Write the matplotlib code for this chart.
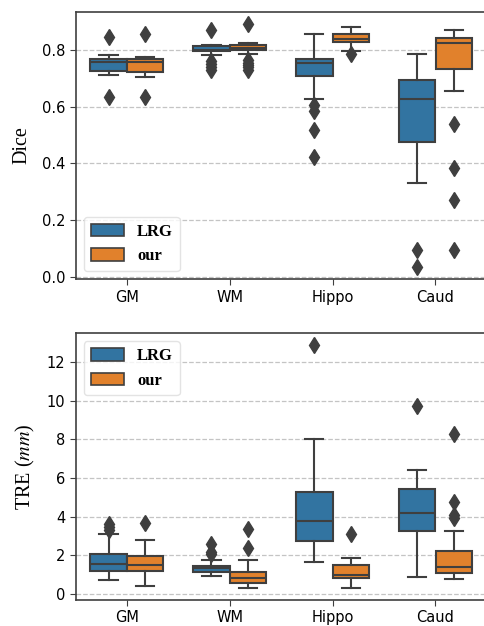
import matplotlib
matplotlib.use("Agg")
import matplotlib.pyplot as plt
from matplotlib.patches import Patch

categories = ["GM", "WM", "Hippo", "Caud"]
methods = ["LRG", "our"]

# Dice statistics
dice_lrg_med = [0.757, 0.800, 0.753, 0.628]
dice_lrg_q1 = [0.725, 0.794, 0.707, 0.474]
dice_lrg_q3 = [0.768, 0.813, 0.767, 0.692]
dice_lrg_lo = [0.709, 0.780, 0.625, 0.332]
dice_lrg_hi = [0.782, 0.817, 0.853, 0.784]
dice_lrg_fliers = [[0.844, 0.634], [0.870, 0.758, 0.748, 0.740, 0.728],
                   [0.605, 0.584, 0.517, 0.423], [0.098, 0.037]]

dice_our_med = [0.755, 0.806, 0.836, 0.823]
dice_our_q1 = [0.721, 0.798, 0.825, 0.730]
dice_our_q3 = [0.765, 0.815, 0.855, 0.842]
dice_our_lo = [0.704, 0.783, 0.794, 0.656]
dice_our_hi = [0.773, 0.823, 0.878, 0.868]
dice_our_fliers = [[0.855, 0.634], [0.889, 0.762, 0.752, 0.745, 0.737, 0.727],
                   [0.783], [0.537, 0.385, 0.271, 0.096]]

# TRE statistics
tre_lrg_med = [1.55, 1.33, 3.77, 4.17]
tre_lrg_q1 = [1.20, 1.12, 2.74, 3.27]
tre_lrg_q3 = [2.05, 1.46, 5.29, 5.41]
tre_lrg_lo = [0.72, 0.93, 1.64, 0.90]
tre_lrg_hi = [3.13, 1.76, 8.04, 6.40]
tre_lrg_fliers = [[3.62, 3.45, 3.30], [2.60, 2.18, 2.05], [12.86], [9.71]]

tre_our_med = [1.50, 0.81, 0.98, 1.41]
tre_our_q1 = [1.19, 0.58, 0.81, 1.10]
tre_our_q3 = [1.96, 1.12, 1.50, 2.24]
tre_our_lo = [0.41, 0.33, 0.33, 0.76]
tre_our_hi = [2.82, 1.76, 1.88, 3.25]
tre_our_fliers = [[3.65], [3.34, 2.39], [3.08], [8.26, 4.77, 4.08, 3.91]]

colors = ["#3274a1", "#e1812c"]
edge = "#3f3f3f"

plt.rcParams["mathtext.fontset"] = "stix"


def make_stats(med, q1, q3, lo, hi, fl):
    return [dict(med=med[i], q1=q1[i], q3=q3[i], whislo=lo[i], whishi=hi[i],
                 fliers=fl[i]) for i in range(len(med))]


def draw(ax, groups, ylim, yticks):
    offs = [-0.178, 0.178]
    for g, (stats, col, off) in enumerate(zip(groups, colors, offs)):
        pos = [i + off for i in range(len(categories))]
        ax.bxp(stats, positions=pos, widths=0.355, patch_artist=True,
               manage_ticks=False,
               boxprops=dict(facecolor=col, edgecolor=edge, linewidth=1.5),
               medianprops=dict(color=edge, linewidth=1.5),
               whiskerprops=dict(color=edge, linewidth=1.5),
               capprops=dict(color=edge, linewidth=1.5),
               flierprops=dict(marker="d", markerfacecolor=edge,
                               markeredgecolor=edge, markersize=8),
               zorder=3)
    ax.set_xlim(-0.5, len(categories) - 0.5)
    ax.set_ylim(*ylim)
    ax.set_xticks(range(len(categories)))
    ax.set_xticklabels(categories, fontsize=10.5)
    ax.set_yticks(yticks)
    ax.tick_params(axis="both", labelsize=10.5, length=4, color=edge)
    ax.yaxis.grid(True, linestyle="--", color="#c4c4c4", linewidth=0.9, zorder=0)
    ax.set_axisbelow(True)
    for s in ax.spines.values():
        s.set_color(edge)
        s.set_linewidth(1.2)


fig = plt.figure(figsize=(4.84, 6.26), dpi=100)
ax1 = fig.add_axes([0.156, 0.554, 0.85, 0.427])
ax2 = fig.add_axes([0.156, 0.0415, 0.85, 0.4265])

draw(ax1, [make_stats(dice_lrg_med, dice_lrg_q1, dice_lrg_q3, dice_lrg_lo, dice_lrg_hi, dice_lrg_fliers),
           make_stats(dice_our_med, dice_our_q1, dice_our_q3, dice_our_lo, dice_our_hi, dice_our_fliers)],
     (-0.006, 0.932), [0.0, 0.2, 0.4, 0.6, 0.8])
ax1.set_yticklabels(["0.0", "0.2", "0.4", "0.6", "0.8"])
draw(ax2, [make_stats(tre_lrg_med, tre_lrg_q1, tre_lrg_q3, tre_lrg_lo, tre_lrg_hi, tre_lrg_fliers),
           make_stats(tre_our_med, tre_our_q1, tre_our_q3, tre_our_lo, tre_our_hi, tre_our_fliers)],
     (-0.31, 13.5), [0, 2, 4, 6, 8, 10, 12])

ax1.set_ylabel("Dice", fontfamily="Liberation Serif", fontsize=14.5, labelpad=7)
ax2.set_ylabel(r"TRE ($mm$)", fontfamily="Liberation Serif", fontsize=14.5, labelpad=7)

handles = [Patch(facecolor=c, edgecolor=edge, linewidth=1.2) for c in colors]
leg_font = dict(family="Liberation Serif", weight="bold", size=12)
ax1.legend(handles, methods, loc="lower left", prop=leg_font, borderaxespad=0.5,
           handlelength=2.0, handleheight=0.8, framealpha=0.8, edgecolor="#dddddd")
ax2.legend(handles, methods, loc="upper left", prop=leg_font, borderaxespad=0.5,
           handlelength=2.0, handleheight=0.8, framealpha=0.8, edgecolor="#dddddd")

fig.savefig("out.png", dpi=100)
